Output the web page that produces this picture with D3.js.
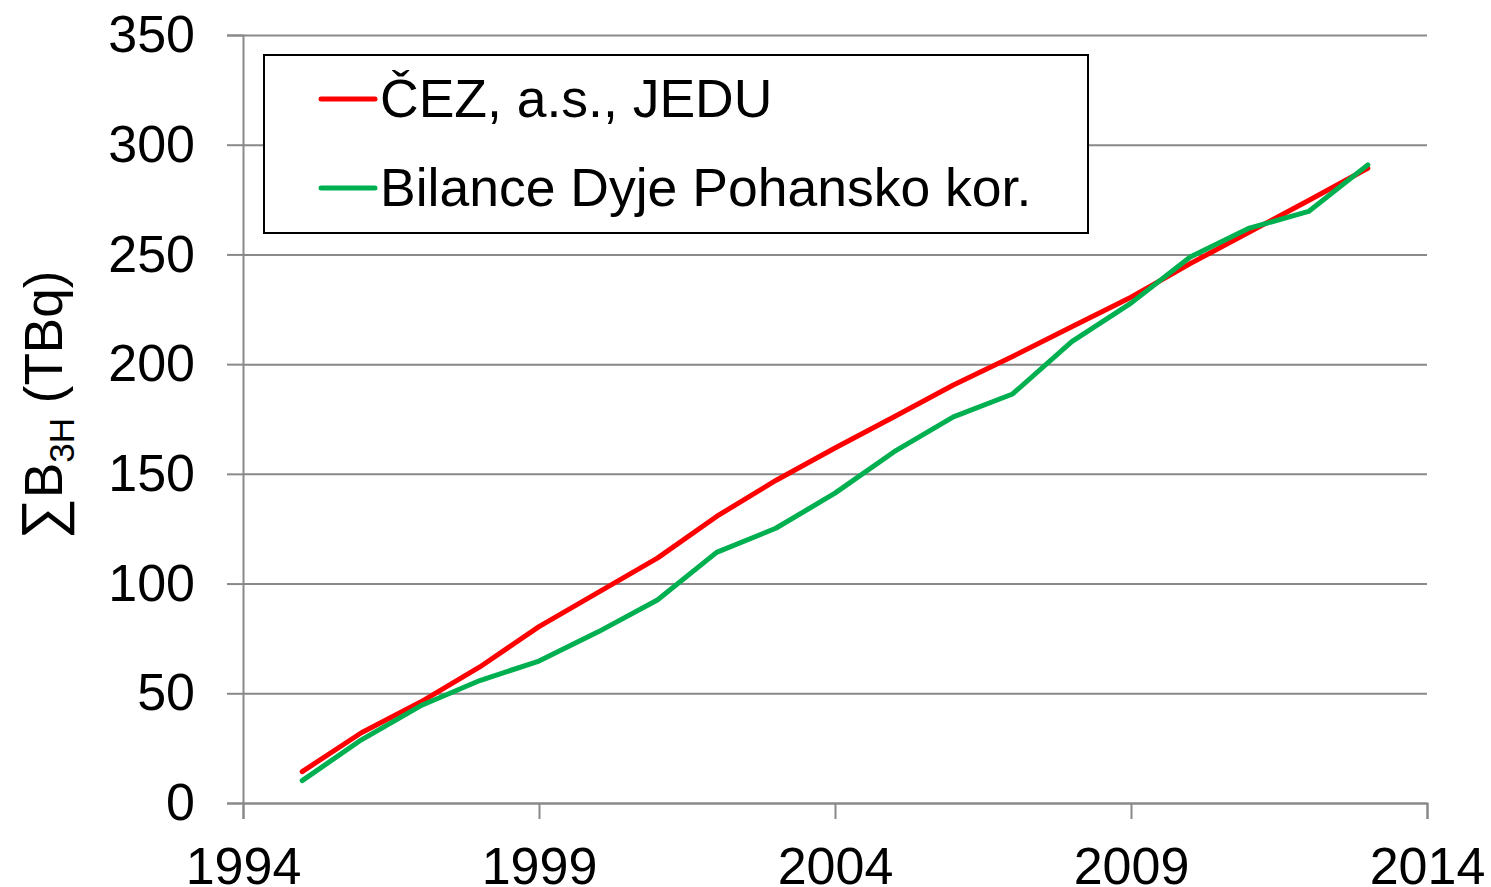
<!DOCTYPE html>
<html>
<head>
  <meta charset="utf-8">
  <script src="https://d3js.org/d3.v7.min.js"></script>
  <title>Tritium balance</title>
  <style>
  body { margin: 0; background: white; font-family: "Liberation Sans", Arial, sans-serif; }
  </style>
</head>
<body>
<svg id="chart" width="1491" height="887"></svg>
<script>
// data
var years = [1995, 1996, 1997, 1998, 1999, 2000, 2001, 2002, 2003, 2004,
             2005, 2006, 2007, 2008, 2009, 2010, 2011, 2012, 2013];
var cez = [14.3, 32.0, 46.0, 62.0, 80.4, 96.0, 111.6, 130.6, 147.0, 161.8,
           176.0, 190.5, 203.5, 217.0, 230.5, 245.8, 260.2, 274.6, 289.3];
var dyje = [10.2, 28.8, 44.3, 55.8, 64.7, 78.0, 92.5, 114.2, 125.2, 141.2,
            160.1, 176.0, 186.4, 210.3, 227.8, 248.8, 262.0, 269.6, 290.8];
var seriesNames = ["ČEZ, a.s., JEDU", "Bilance Dyje Pohansko kor."];
var xTicks = [1994, 1999, 2004, 2009, 2014];
var yTicks = [0, 50, 100, 150, 200, 250, 300, 350];

var colors = ["#ff0000", "#00b050"];
var gray = "#898989";
var font = "'Liberation Sans', Arial, sans-serif";
var margin = {top: 35, right: 64, bottom: 84, left: 243},
    width = 1491 - margin.left - margin.right,
    height = 887 - margin.top - margin.bottom;

var svg = d3.select("#chart")
  .append("g")
  .attr("transform", "translate(" + margin.left + "," + margin.top + ")");

var xs = d3.scaleLinear().domain([1994, 2014]).range([0, width]);
var ys = d3.scaleLinear().domain([0, 350]).range([height, 0]);

// grid lines
svg.append("g")
  .call(d3.axisLeft(ys).tickValues(yTicks).tickSize(-width).tickFormat(""))
  .call(function(g) { g.select(".domain").remove(); })
  .selectAll("line").attr("stroke", gray).attr("stroke-width", 2);

// y axis
var yAxis = svg.append("g")
  .call(d3.axisLeft(ys).tickValues(yTicks).tickSize(16).tickPadding(32));
yAxis.select(".domain").attr("stroke", gray).attr("stroke-width", 2);
yAxis.selectAll("line").attr("stroke", gray).attr("stroke-width", 2);
yAxis.selectAll("text")
  .style("font-size", "52px")
  .style("font-family", font)
  .attr("fill", "#000");

// x axis
var xAxis = svg.append("g")
  .attr("transform", "translate(0," + height + ")")
  .call(d3.axisBottom(xs).tickValues(xTicks).tickFormat(d3.format("d")).tickSize(16).tickPadding(28));
xAxis.select(".domain").attr("stroke", gray).attr("stroke-width", 2);
xAxis.selectAll("line").attr("stroke", gray).attr("stroke-width", 2);
xAxis.selectAll("text")
  .style("font-size", "52px")
  .style("font-family", font)
  .attr("fill", "#000");

// y label
var ylab = d3.select("#chart").append("text")
  .attr("transform", "translate(62,405) rotate(-90)")
  .attr("text-anchor", "middle")
  .style("font-size", "53px")
  .style("font-family", font)
  .attr("fill", "#000");
ylab.append("tspan").style("font-size", "58px").text("∑");
ylab.append("tspan").text("B");
ylab.append("tspan").attr("dy", 12).style("font-size", "35px").text("3H");
ylab.append("tspan").attr("dy", -12).text(" (TBq)");

// lines
var line = d3.line()
  .x(function(d) { return xs(d[0]); })
  .y(function(d) { return ys(d[1]); });

[cez, dyje].forEach(function(vals, i) {
  svg.append("path")
    .datum(years.map(function(y, j) { return [y, vals[j]]; }))
    .attr("fill", "none")
    .attr("stroke", colors[i])
    .attr("stroke-width", 5)
    .attr("stroke-linejoin", "round")
    .attr("stroke-linecap", "round")
    .attr("d", line);
});

// legend
var legend = d3.select("#chart").append("g");
legend.append("rect")
  .attr("x", 264).attr("y", 55)
  .attr("width", 824).attr("height", 178)
  .attr("fill", "white")
  .attr("stroke", "#000")
  .attr("stroke-width", 2);

seriesNames.forEach(function(name, i) {
  var ly = 99 + i * 89;
  legend.append("line")
    .attr("x1", 321).attr("x2", 375)
    .attr("y1", ly).attr("y2", ly)
    .attr("stroke", colors[i])
    .attr("stroke-width", 5)
    .attr("stroke-linecap", "round");
  legend.append("text")
    .attr("x", 380).attr("y", ly + 18)
    .style("font-size", "53.5px")
    .style("font-family", font)
    .attr("fill", "#000")
    .text(name);
});
</script>
</body>
</html>
